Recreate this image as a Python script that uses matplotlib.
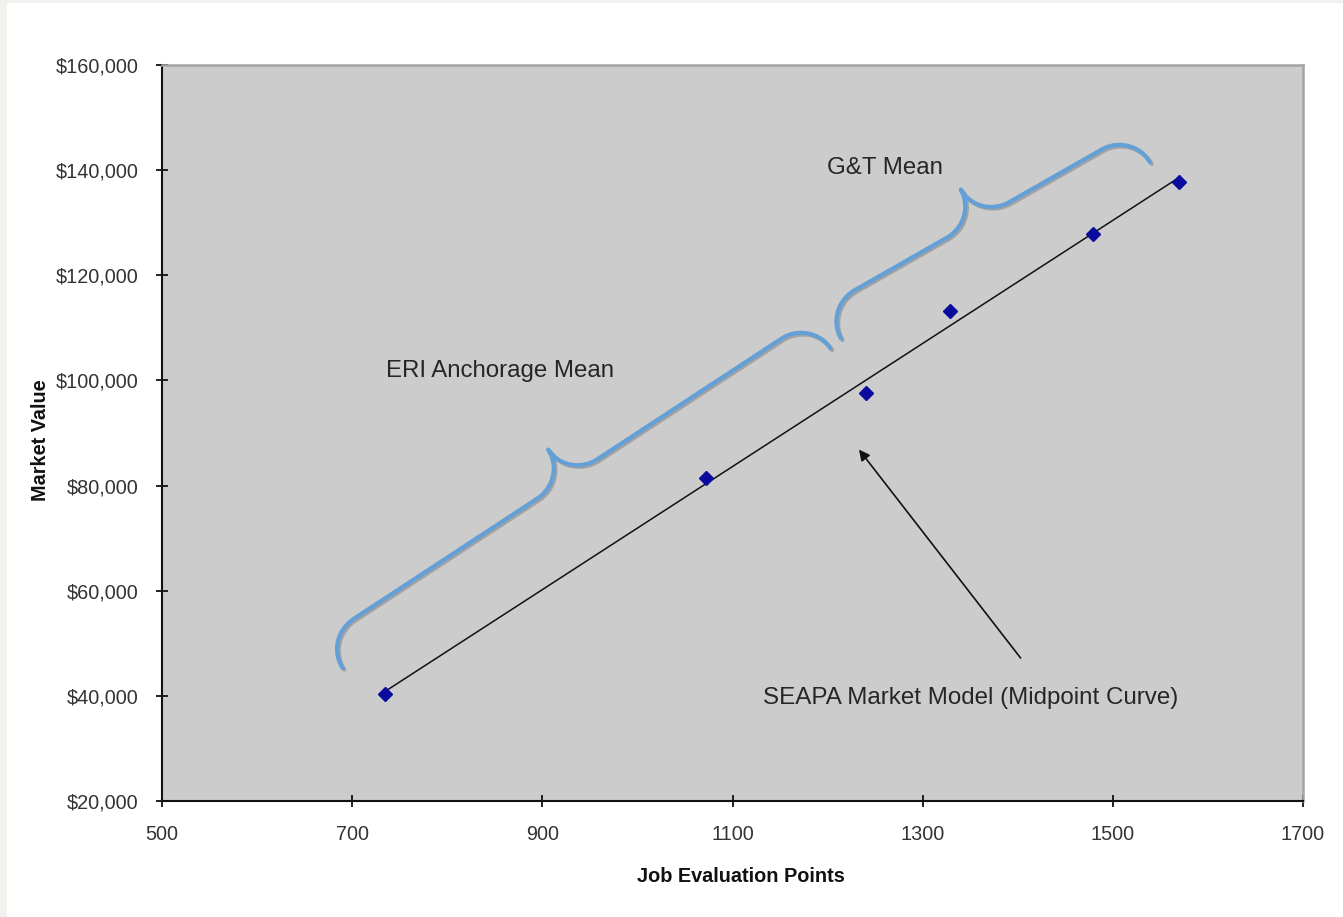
import numpy as np
import matplotlib
matplotlib.use("Agg")
import matplotlib.pyplot as plt
import matplotlib.ticker as ticker
import matplotlib.patheffects as pe
from matplotlib.patches import Rectangle

plt.rcParams.update({
    "font.family": ["Liberation Sans", "DejaVu Sans"],
    "font.size": 14,
})

# Job evaluation points vs. market value of the benchmark jobs
points = np.array([735, 1072, 1240, 1329, 1479, 1570])
market_value = np.array([40400, 81400, 97600, 113300, 127800, 137800])

x_ticks = [500, 700, 900, 1100, 1300, 1500, 1700]
y_ticks = [20000, 40000, 60000, 80000, 100000, 120000, 140000, 160000]

# brace spans (start, end) in data units
eri_brace = [(690, 45300), (1203, 106100)]
gt_brace = [(1214, 108000), (1539, 141500)]

BRACE_BLUE = "#63a0d8"
W, H, DPI = 1343, 917, 100

fig = plt.figure(figsize=(W / DPI, H / DPI), dpi=DPI)
fig.patch.set_facecolor("white")
# thin grey frame along the top and left edges
fig.patches.append(Rectangle((0, 1 - 3 / H), 1, 3 / H, transform=fig.transFigure,
                             facecolor="#f1f1ed", edgecolor="none", zorder=0))
fig.patches.append(Rectangle((0, 0), 7 / W, 1, transform=fig.transFigure,
                             facecolor="#f1f1ed", edgecolor="none", zorder=0))

ax = fig.add_axes([162 / W, 1 - 801 / H, (1303 - 162) / W, (801 - 65) / H])
ax.set_facecolor("#cccccc")
ax.set_xlim(500, 1700)
ax.set_ylim(20000, 160000)
ax.set_autoscale_on(False)

for side in ("left", "bottom"):
    ax.spines[side].set_color("#111111")
    ax.spines[side].set_linewidth(1.5)
for side in ("top", "right"):
    ax.spines[side].set_color("#a4a4a4")
    ax.spines[side].set_linewidth(1.8)

ax.set_xticks(x_ticks)
ax.set_yticks(y_ticks)
ax.yaxis.set_major_formatter(ticker.FuncFormatter(lambda v, _: f"${v:,.0f}"))
ax.tick_params(direction="inout", length=8, width=1.3, color="#111111",
               labelsize=14.3, labelcolor="#333333")
ax.tick_params(axis="y", pad=13)
ax.tick_params(axis="x", pad=13)

ax.set_xlabel("Job Evaluation Points", fontsize=14.3, fontweight="bold",
              color="#111111", labelpad=17)
ax.set_ylabel("Market Value", fontsize=14.3, fontweight="bold",
              color="#111111", labelpad=4)
ax.xaxis.label.set_x(0.507)
ax.yaxis.label.set_y(0.49)

# linear trend across the observed range
slope, intercept = np.polyfit(points, market_value, 1)
fit_x = np.array([points.min(), points.max()])
ax.plot(fit_x, slope * fit_x + intercept, color="#111111", lw=1.1, zorder=3)

ax.plot(points, market_value, ls="none", marker="D", markersize=7.5,
        color="#0a0a9c", markeredgecolor="#0a0a9c", zorder=4)


def brace_path(p0, p1, h=35.0, r=36.0, n=40):
    """Curly brace between two data points, built in pixel space."""
    a = ax.transData.transform(p0)
    b = ax.transData.transform(p1)
    d = b - a
    L = np.hypot(*d)
    u = d / L
    v = np.array([-u[1], u[0]])  # perpendicular, away from the trend line
    t = np.linspace(0, np.pi / 2, n)
    half = L / 2
    # first half: end hook, straight run, rise into the cusp
    s1 = np.column_stack([r - r * np.cos(t), h * np.sin(t)])
    s2 = np.column_stack([half - r + r * np.sin(t), 2 * h - h * np.cos(t)])
    left = np.vstack([s1, s2])
    right = np.column_stack([L - left[:, 0], left[:, 1]])[::-1]
    local = np.vstack([left, right])
    pix = a + local[:, :1] * u + local[:, 1:] * v
    return ax.transData.inverted().transform(pix)


for span in (eri_brace, gt_brace):
    bp = brace_path(*span)
    ax.plot(bp[:, 0], bp[:, 1], color=BRACE_BLUE, lw=3.0,
            solid_capstyle="round", zorder=2,
            path_effects=[pe.SimpleLineShadow(offset=(1.2, -1.2),
                                              shadow_color="#555555", alpha=0.35),
                          pe.Normal()])

ax.text(855, 101700, "ERI Anchorage Mean", fontsize=17.3, color="#262626",
        ha="center", va="center", zorder=5)
ax.text(1260, 140400, "G&T Mean", fontsize=17.3, color="#262626",
        ha="center", va="center", zorder=5)
ax.text(1350, 39600, "SEAPA Market Model (Midpoint Curve)", fontsize=17.4,
        color="#262626", ha="center", va="center", zorder=5)

ax.annotate("", xy=(1233, 86850), xytext=(1403, 47200),
            arrowprops=dict(arrowstyle="-|>", color="#111111", lw=1.2,
                            mutation_scale=16, shrinkA=0, shrinkB=0),
            zorder=5)

fig.savefig("out.png", dpi=DPI)
